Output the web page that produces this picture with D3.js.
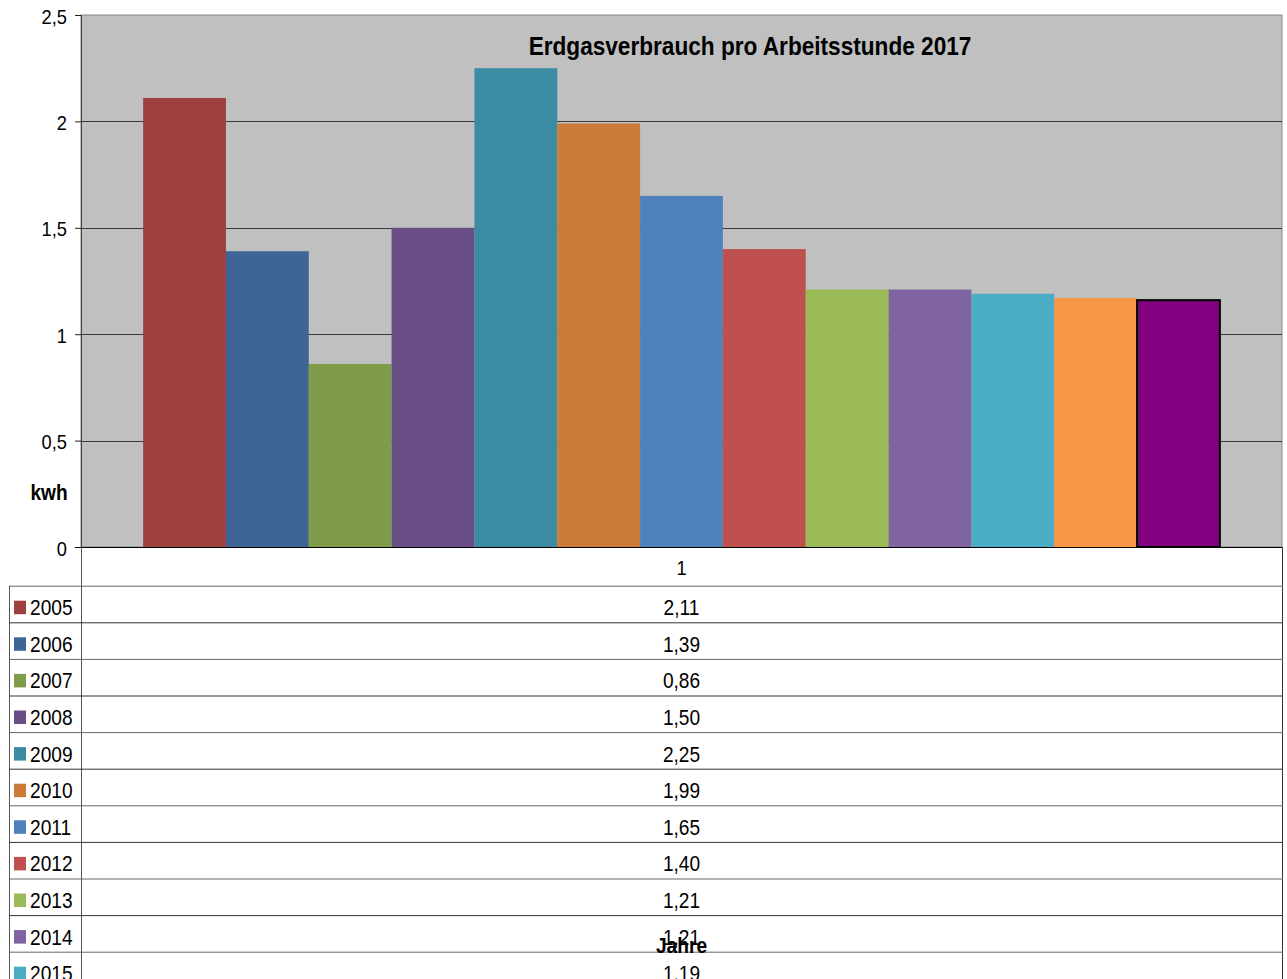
<!DOCTYPE html>
<html>
<head>
<meta charset="utf-8">
<script src="https://cdn.jsdelivr.net/npm/d3@7"></script>
<style>
  body { margin: 0; background: #fff; }
  text { font-family: "Liberation Sans", Arial, sans-serif; fill: #000; }
</style>
</head>
<body>
<script>
// data
const years = ["2005", "2006", "2007", "2008", "2009", "2010", "2011", "2012", "2013", "2014", "2015", "2016", "2017"];
const values = [2.11, 1.39, 0.86, 1.50, 2.25, 1.99, 1.65, 1.40, 1.21, 1.21, 1.19, 1.17, 1.16];
const colors = ["#9E413E", "#3F6597", "#7F9C4A", "#6A4F87", "#3B8BA2", "#CC7B38",
                "#4F81BD", "#C0504D", "#9BBB59", "#8064A2", "#4BACC6", "#F79646", "#800080"];
const yTicks = [0, 0.5, 1, 1.5, 2, 2.5];

const W = 1287, H = 979;
const plot = {left: 81, right: 1282, top: 15, bottom: 547};
const sx = 0.87; // text looks horizontally squeezed

const fmt = v => d3.format(".2f")(v).replace(".", ",");
const fmtTick = v => String(v).replace(".", ",");

const svg = d3.select("body").append("svg")
    .attr("width", W)
    .attr("height", H);

function label(g, x, y, str, size, anchor, bold) {
    return g.append("text")
        .attr("transform", `translate(${x},${y}) scale(${sx},1)`)
        .attr("text-anchor", anchor)
        .style("font-size", size + "px")
        .style("font-weight", bold ? "bold" : "normal")
        .text(str);
}

const y = d3.scaleLinear().domain([0, 2.5]).range([plot.bottom, plot.top]);
// one category, 13 series, gap width 150%
const bw = (plot.right - plot.left) / (years.length + 1.5);
const x = d3.scaleBand().domain(years)
    .range([plot.left + 0.75 * bw, plot.right - 0.75 * bw])
    .padding(0);

// plot background
svg.append("rect")
    .attr("x", plot.left).attr("y", plot.top)
    .attr("width", plot.right - plot.left)
    .attr("height", plot.bottom - plot.top)
    .attr("fill", "#C0C0C0")
    .attr("stroke", "#868686");

// gridlines
svg.append("g").selectAll("line")
    .data(yTicks.filter(d => d > 0 && d < 2.5))
    .enter().append("line")
    .attr("x1", plot.left).attr("x2", plot.right)
    .attr("y1", d => Math.round(y(d)) + 0.5)
    .attr("y2", d => Math.round(y(d)) + 0.5)
    .attr("stroke", "#3a3a3a");

// bars
svg.append("g").selectAll("rect")
    .data(values)
    .enter().append("rect")
    .attr("x", (d, i) => x(years[i]))
    .attr("y", d => y(d))
    .attr("width", x.bandwidth())
    .attr("height", d => y(0) - y(d))
    .attr("fill", (d, i) => colors[i])
    .attr("stroke", (d, i) => i === years.length - 1 ? "#000" : "none")
    .attr("stroke-width", 2);

// y axis
const yAxis = svg.append("g")
    .attr("transform", `translate(${plot.left},0)`)
    .call(d3.axisLeft(y).tickValues(yTicks).tickSize(6).tickFormat(""));
yAxis.select(".domain").attr("stroke", "#404040");
yAxis.selectAll(".tick line").attr("stroke", "#202020");
yTicks.forEach(t => label(svg, 67, y(t) + 8.5, fmtTick(t), 21, "end", false));

// zero line
svg.append("line")
    .attr("x1", plot.left - 6).attr("x2", plot.right)
    .attr("y1", y(0) + 0.5).attr("y2", y(0) + 0.5)
    .attr("stroke", "#000");

// title and axis titles
label(svg, 750, 54.5, "Erdgasverbrauch pro Arbeitsstunde 2017", 26, "middle", true);
label(svg, 49, 500, "kwh", 22, "middle", true);

// data table
const headTop = plot.bottom, headH = 38.7, rowH = 36.6;
const table = svg.append("g");
const tableBottom = headTop + headH + rowH * years.length;
const midX = (plot.left + plot.right) / 2;

table.append("line")
    .attr("x1", plot.left + 0.5).attr("x2", plot.left + 0.5)
    .attr("y1", headTop).attr("y2", tableBottom)
    .attr("stroke", "#555");
table.append("line")
    .attr("x1", plot.right + 0.5).attr("x2", plot.right + 0.5)
    .attr("y1", headTop).attr("y2", tableBottom)
    .attr("stroke", "#333");
table.append("line")
    .attr("x1", 9.5).attr("x2", 9.5)
    .attr("y1", headTop + headH).attr("y2", tableBottom)
    .attr("stroke", "#555");

label(table, midX, headTop + 28, "1", 21, "middle", false);

const rows = table.selectAll(".row")
    .data(values)
    .enter().append("g")
    .attr("class", "row")
    .attr("transform", (d, i) => `translate(0,${headTop + headH + i * rowH})`);

rows.append("line")
    .attr("x1", 9).attr("x2", plot.right + 1)
    .attr("y1", 0.5).attr("y2", 0.5)
    .attr("stroke", (d, i) => i % 2 ? "#333" : "#666");

rows.append("rect")
    .attr("x", 14).attr("y", 15)
    .attr("width", 12).attr("height", 13.5)
    .attr("fill", (d, i) => colors[i]);

rows.each(function(d, i) {
    const g = d3.select(this);
    label(g, 30, 29.5, years[i], 22, "start", false);
    label(g, midX, 29.5, fmt(d), 22, "middle", false);
});

label(svg, midX, 953, "Jahre", 22, "middle", true);
</script>
</body>
</html>
